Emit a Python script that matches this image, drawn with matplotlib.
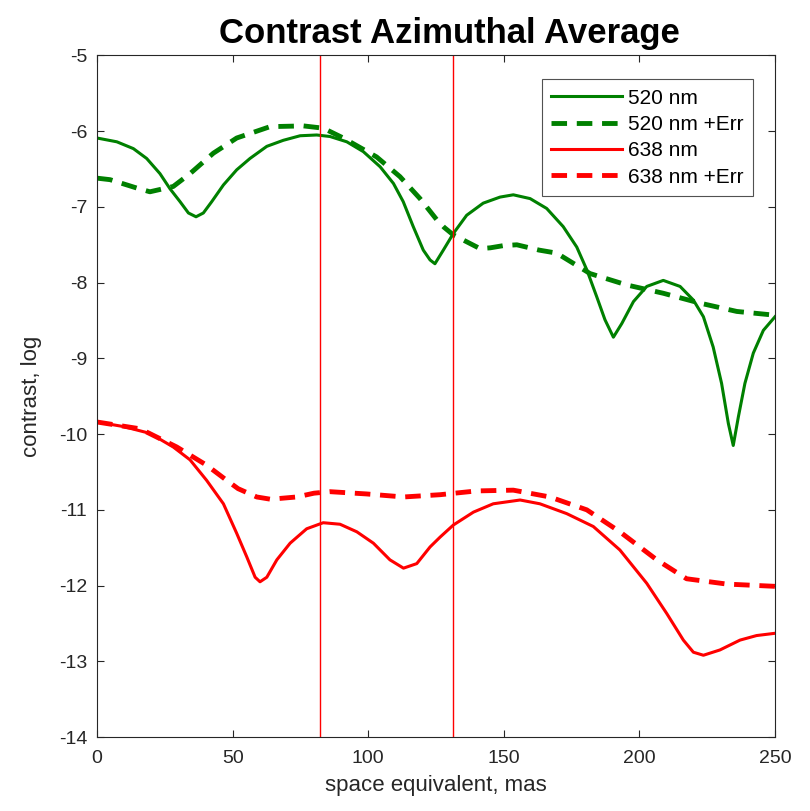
import numpy as np
import matplotlib.pyplot as plt

plt.rcParams['font.family'] = ['Liberation Sans', 'DejaVu Sans']
plt.rcParams['axes.unicode_minus'] = False

# values
x_520 = [0, 7.3, 13.4, 18.3, 23.2, 26.9, 30.6, 33.7, 36.5, 39.2, 42.3, 46.6, 51.5,
         56.4, 62.6, 68.7, 74.9, 81, 85.9, 92.1, 98.2, 104.4, 109.3, 112.9, 116.6,
         120.3, 122.8, 124.6, 127.7, 131.4, 136.3, 142.4, 148.6, 153.5, 159.7,
         165.8, 171.9, 176.9, 180.6, 184.3, 187.3, 190.4, 193.5, 197.8, 202.7,
         208.8, 215, 219.9, 223.6, 227.2, 230.3, 232.8, 234.6, 236.5, 238.9, 242,
         245.7, 250]
y_520 = [-6.09, -6.14, -6.23, -6.36, -6.56, -6.76, -6.93, -7.08, -7.13, -7.08, -6.93,
         -6.71, -6.51, -6.36, -6.20, -6.12, -6.06, -6.05, -6.07, -6.14, -6.27, -6.47,
         -6.69, -6.93, -7.26, -7.57, -7.70, -7.75, -7.57, -7.35, -7.11, -6.95, -6.87,
         -6.84, -6.89, -7.02, -7.26, -7.53, -7.83, -8.19, -8.49, -8.72, -8.54, -8.25,
         -8.05, -7.97, -8.05, -8.23, -8.45, -8.85, -9.33, -9.86, -10.15, -9.77, -9.33,
         -8.93, -8.63, -8.45]

x_520e = [0, 4.8, 14.6, 19.5, 28.1, 34.3, 42.9, 51.5, 63.8, 76.1, 83.4, 90.8, 103.1,
          111.7, 119.1, 125.3, 128, 131.4, 141.2, 145, 150, 154.8, 163, 169.5, 181.8,
          195.3, 208.8, 222.3, 235.9, 250]
y_520e = [-6.62, -6.64, -6.75, -6.80, -6.73, -6.56, -6.29, -6.09, -5.94, -5.93, -5.96,
          -6.09, -6.34, -6.60, -6.89, -7.17, -7.27, -7.37, -7.55, -7.54, -7.51, -7.50,
          -7.57, -7.61, -7.88, -8.03, -8.14, -8.27, -8.38, -8.43]

x_638 = [0, 9.7, 19.5, 28.1, 34.3, 40.4, 46.6, 51.5, 55.2, 58.3, 60.1, 62.6, 66.3,
         71.2, 77.3, 83.4, 89.6, 95.8, 101.9, 108, 113, 117.9, 122.8, 126.5, 131.4,
         138.8, 146.1, 156, 163.3, 173.2, 183, 192.8, 202.7, 210.1, 216.2, 219.9,
         223.6, 229.7, 237.1, 243.2, 250]
y_638 = [-9.84, -9.90, -9.99, -10.17, -10.34, -10.61, -10.92, -11.31, -11.62, -11.89,
         -11.95, -11.89, -11.66, -11.44, -11.25, -11.17, -11.19, -11.29, -11.44,
         -11.66, -11.77, -11.71, -11.49, -11.36, -11.2, -11.03, -10.92, -10.87,
         -10.92, -11.05, -11.22, -11.53, -11.97, -12.37, -12.72, -12.88, -12.92,
         -12.85, -12.72, -12.66, -12.63]

x_638e = [0, 15.9, 29.4, 40.4, 47.8, 52, 58.9, 64, 73.6, 80, 85.9, 99.4, 113, 126.5,
          140, 153.5, 167, 180.6, 192.8, 206.4, 217.4, 232.2, 250]
y_638e = [-9.84, -9.93, -10.17, -10.41, -10.61, -10.72, -10.83, -10.86, -10.83,
          -10.78, -10.76, -10.79, -10.83, -10.80, -10.75, -10.74, -10.83, -11.0,
          -11.29, -11.66, -11.91, -11.98, -12.01]

vlines = [82.2, 131.2]

green = '#008000'
red = '#ff0000'

fig = plt.figure(figsize=(8.1, 8.11), dpi=100)
ax = fig.add_axes([0.1198, 0.0912, 0.837, 0.8404])

ax.plot(x_520, y_520, color=green, lw=2.2, label='520 nm')
ax.plot(x_520e, y_520e, color=green, lw=3.5, dashes=(3.2, 2), label='520 nm +Err')
ax.plot(x_638, y_638, color=red, lw=2.2, label='638 nm')
ax.plot(x_638e, y_638e, color=red, lw=3.5, dashes=(3.2, 2), label='638 nm +Err')
for v in vlines:
    ax.axvline(v, color=red, lw=1.0)

ax.set_xlim(0, 250)
ax.set_ylim(-14, -5)
ax.set_xticks([0, 50, 100, 150, 200, 250])
ax.set_yticks(np.arange(-14, -4, 1))
ax.tick_params(direction='in', top=True, right=True, labelsize=14, colors='#262626',
               length=5)
ax.tick_params(axis='x', pad=9)
ax.tick_params(axis='y', pad=7)
for s in ax.spines.values():
    s.set_color('#262626')
    s.set_linewidth(0.8)

ax.set_title('Contrast Azimuthal Average', fontsize=25, fontweight='bold', pad=9,
             x=0.52)
ax.set_xlabel('space equivalent, mas', fontsize=16, color='#262626', labelpad=6)
ax.set_ylabel('contrast, log', fontsize=16, color='#262626', labelpad=12)

leg = ax.legend(loc='upper right', bbox_to_anchor=(0.968, 0.965), fontsize=15,
                handlelength=3.4, frameon=True, fancybox=False, edgecolor='#262626',
                borderaxespad=0, labelspacing=0.35, handletextpad=0.3,
                borderpad=0.45)
leg.get_frame().set_linewidth(0.8)

fig.savefig('out.png', dpi=100)
